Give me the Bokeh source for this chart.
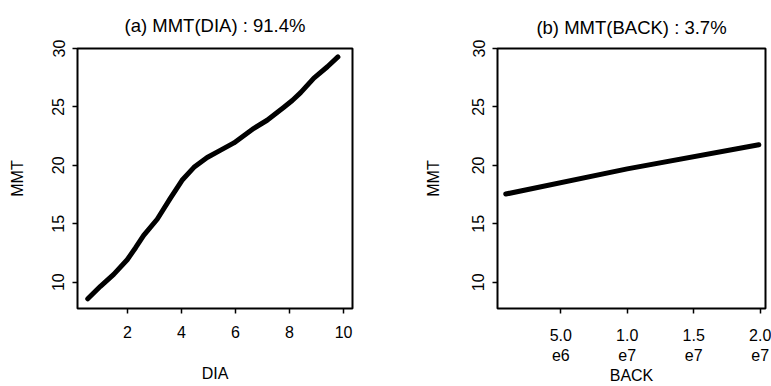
from bokeh.plotting import figure
from bokeh.layouts import row
from bokeh.models import FixedTicker, Range1d
from bokeh.embed import file_html
from bokeh.resources import INLINE

# Panel (a): MMT as a function of DIA
dia = [0.53, 1.0, 1.49, 1.99, 2.3, 2.6, 3.1, 3.59, 4.02, 4.46, 4.95, 5.45, 5.94, 6.68, 7.17, 7.79, 8.1, 8.41, 8.9, 9.4, 9.79]
mmt_dia = [8.58, 9.65, 10.67, 11.92, 12.95, 14.0, 15.39, 17.19, 18.72, 19.83, 20.67, 21.3, 21.92, 23.17, 23.86, 24.97, 25.55, 26.22, 27.47, 28.44, 29.28]

# Panel (b): MMT as a function of BACK
back = [0.86e6, 1.0e7, 1.99e7]
mmt_back = [17.55, 19.7, 21.76]

dia_ticks = [2, 4, 6, 8, 10]
back_ticks = [5e6, 1e7, 1.5e7, 2e7]
back_tick_labels = ["5.0\ne6", "1.0\ne7", "1.5\ne7", "2.0\ne7"]
mmt_ticks = [10, 15, 20, 25, 30]

FONT = "Liberation Sans"


def style(p, xlabel, ylabel, title_standoff):
    p.title.text_font = FONT
    p.title.text_font_size = "18.5px"
    p.title.text_font_style = "normal"
    p.title.text_color = "black"
    p.title.align = "center"
    p.title.standoff = title_standoff
    p.outline_line_color = "black"
    p.outline_line_width = 2
    p.grid.visible = False
    p.background_fill_color = "white"
    p.border_fill_color = "white"
    for ax in (p.xaxis[0], p.yaxis[0]):
        ax.axis_line_color = None
        ax.major_tick_line_color = "black"
        ax.major_tick_line_width = 1.5
        ax.major_tick_out = 5
        ax.major_tick_in = 0
        ax.minor_tick_line_color = None
        ax.major_label_text_font = FONT
        ax.major_label_text_font_size = "16px"
        ax.major_label_text_color = "black"
        ax.axis_label_text_font = FONT
        ax.axis_label_text_font_size = "16px"
        ax.axis_label_text_font_style = "normal"
        ax.axis_label_text_color = "black"
    p.xaxis[0].axis_label = xlabel
    p.yaxis[0].axis_label = ylabel
    p.yaxis[0].major_label_orientation = "vertical"
    p.yaxis[0].ticker = FixedTicker(ticks=mmt_ticks)
    p.yaxis[0].major_label_standoff = 8


p1 = figure(width=385, height=386, output_backend="svg", toolbar_location=None,
            title="(a) MMT(DIA) : 91.4%",
            x_range=Range1d(0.15, 10.33), y_range=Range1d(7.75, 30.0),
            min_border_left=77, min_border_right=33, min_border_top=0, min_border_bottom=71)
p1.line(dia, mmt_dia, line_width=5, line_color="black", line_cap="round", line_join="round")
style(p1, "DIA", "MMT", 25)
p1.xaxis[0].ticker = FixedTicker(ticks=dia_ticks)
p1.xaxis[0].major_label_standoff = 12
p1.xaxis[0].axis_label_standoff = 24
p1.yaxis[0].axis_label_standoff = 24

p2 = figure(width=386, height=386, output_backend="svg", toolbar_location=None,
            title="(b) MMT(BACK) : 3.7%",
            x_range=Range1d(0.24e6, 2.04e7), y_range=Range1d(7.76, 30.0),
            min_border_left=112, min_border_right=6, min_border_top=0, min_border_bottom=73)
p2.line(back, mmt_back, line_width=5, line_color="black", line_cap="round")
style(p2, "BACK", "MMT", 22)
p2.xaxis[0].ticker = FixedTicker(ticks=back_ticks)
p2.xaxis[0].major_label_overrides = {t: lab for t, lab in zip(back_ticks, back_tick_labels)}
p2.xaxis[0].major_label_standoff = 13
p2.xaxis[0].axis_label_standoff = 0
p2.yaxis[0].axis_label_standoff = 28

layout = row(p1, p2)
open("out.html", "w").write(file_html(layout, INLINE))
